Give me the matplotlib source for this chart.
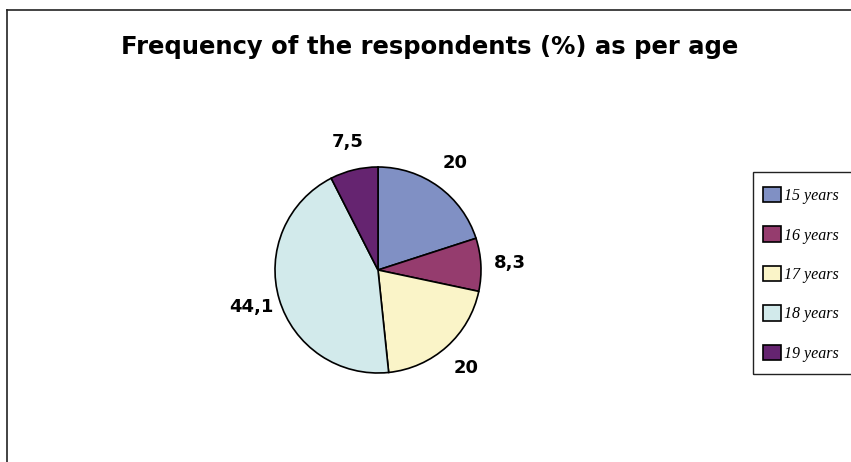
import matplotlib.pyplot as plt
from matplotlib.lines import Line2D
from matplotlib.patches import Rectangle

ages = ['15 years', '16 years', '17 years', '18 years', '19 years']
freq = [20, 8.3, 20, 44.1, 7.5]
colors = ['#8090C4', '#953C6E', '#FAF4C8', '#D2EAEB', '#652470']

W, H = 851, 462
fig = plt.figure(figsize=(W / 100, H / 100), dpi=100)

# outer chart border (only top and left are visible)
fig.add_artist(Line2D([7 / W, 1], [1 - 10 / H, 1 - 10 / H], color='#222222', lw=1.2))
fig.add_artist(Line2D([7 / W, 7 / W], [0, 1 - 10 / H], color='#222222', lw=1.2))

fig.text(430 / W, 1 - 54 / H, 'Frequency of the respondents (%) as per age',
         ha='center', va='baseline', fontsize=17.5, fontweight='bold',
         family='DejaVu Sans')

# pie: center (378, 270) px, radius 103 px
r = 103
ax = fig.add_axes([(378 - r) / W, (H - 270 - r) / H, 2 * r / W, 2 * r / H])
labels = [str(v).replace('.', ',') for v in freq]
wedges, texts = ax.pie(freq, colors=colors, startangle=90, counterclock=False,
                       labels=labels, labeldistance=1.28,
                       wedgeprops=dict(edgecolor='black', linewidth=1.2),
                       textprops=dict(fontsize=13, fontweight='bold'))
for t in texts:
    t.set_ha('center')
    t.set_va('center')
ax.set_xlim(-1, 1)
ax.set_ylim(-1, 1)

# legend box
fig.add_artist(Rectangle((753 / W, 1 - 374 / H), 1, 202 / H, transform=fig.transFigure,
                         facecolor='none', edgecolor='#222222', lw=1))
fig.legend(wedges, ages, loc='upper left', bbox_to_anchor=(763 / W, 1 - 187 / H),
           frameon=False, handlelength=1.1, handleheight=1.1, labelspacing=1.4,
           handletextpad=0.2, borderaxespad=0, borderpad=0,
           prop=dict(family='Liberation Serif', style='italic', size=11.5))

fig.savefig('out.png', dpi=100)
